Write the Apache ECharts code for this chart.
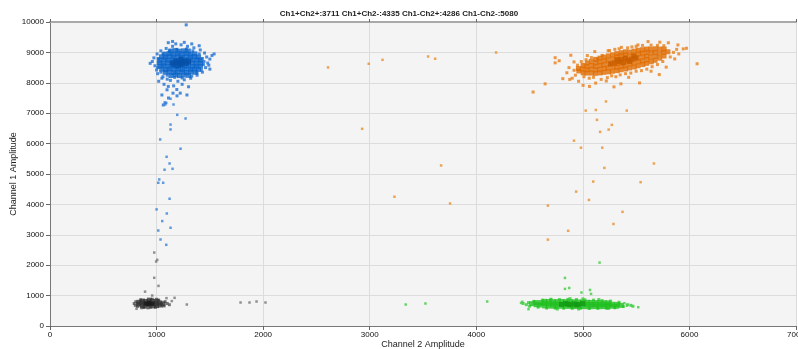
<!DOCTYPE html>
<html>
<head>
<meta charset="utf-8">
<script src="https://cdn.jsdelivr.net/npm/echarts@6/dist/echarts.min.js"></script>
<style>
  html, body { margin: 0; padding: 0; background: #ffffff; }
  #chart { width: 798px; height: 349px; }
</style>
</head>
<body>
<div id="chart"></div>
<script>
// Droplet amplitudes: [Channel 2 amplitude, Channel 1 amplitude]
const titleText = 'Ch1+Ch2+:3711 Ch1+Ch2-:4335 Ch1-Ch2+:4286 Ch1-Ch2-:5080';
const xTicks = [0, 1000, 2000, 3000, 4000, 5000, 6000, 7000];
const yTicks = [0, 1000, 2000, 3000, 4000, 5000, 6000, 7000, 8000, 9000, 10000];

// Ch1+Ch2- (blue) cluster
const blueCore = [
  [1135,8240],[1178,8262],[1215,8238],[1256,8255],[1300,8245],
  [1080,8345],[1118,8360],[1160,8338],[1198,8352],[1240,8365],[1281,8340],[1322,8358],[1362,8346],
  [1048,8455],[1086,8440],[1125,8462],[1163,8448],[1204,8455],[1242,8438],[1283,8460],[1320,8445],[1358,8458],[1394,8442],
  [1030,8548],[1068,8560],[1106,8542],[1146,8555],[1185,8538],[1224,8562],[1262,8545],[1300,8558],[1338,8540],[1376,8552],[1412,8546],
  [1025,8655],[1062,8640],[1102,8660],[1140,8645],[1180,8658],[1218,8642],[1258,8662],[1296,8648],[1335,8655],[1372,8640],[1414,8652],
  [1030,8745],[1070,8760],[1108,8742],[1148,8755],[1188,8740],[1226,8758],[1265,8745],[1304,8762],[1342,8748],[1380,8756],[1410,8742],
  [1046,8855],[1085,8842],[1124,8860],[1162,8846],[1202,8858],[1240,8842],[1280,8855],[1318,8848],[1356,8860],[1394,8845],
  [1078,8945],[1118,8958],[1158,8940],[1198,8955],[1238,8948],[1278,8960],[1318,8942],[1360,8952],
  [1134,9045],[1174,9058],[1214,9040],[1256,9052],[1298,9046]
];
const blueDense = [
  [1160,8600],[1200,8560],[1240,8600],[1280,8640],[1200,8680],[1240,8700],
  [1180,8720],[1270,8720],[1220,8640],[1300,8700],[1150,8660],[1230,8780]
];
const blueHalo = [
  [960,8700],[985,8560],[975,8820],[1000,8420],[1005,8950],[1010,8300],[940,8640],[1040,9050],
  [1060,8200],[1090,9130],[1100,8120],[1150,9200],[1130,8080],[1180,9280],[1200,8050],[1230,9250],
  [1260,8100],[1290,9200],[1320,8150],[1350,9150],[1380,8250],[1410,9080],[1430,8350],[1450,8980],
  [1460,8500],[1470,8850],[1480,8650],[1500,8780],[1520,8900],[1540,8950],[1500,8450],[1490,8580],
  [1150,9360],[1110,9320],[1260,9330],[1330,9280],[1400,9220],[1050,8150],[1020,8050],[1070,7950],
  [1110,7880],[1160,7900],[1240,7950],[1300,7870],[1098,7770],[1190,7780],[1063,7270],[1079,7345],
  [1112,7500],[1154,7660],[1192,7570],[1222,7660],[1285,7600],[1050,7600],[1278,9906],
  [1010,8500],[1015,8800],[1040,8350],[1060,8950],[1100,8250],[1120,9050],[1170,8180],[1190,9100],
  [1240,8160],[1280,9110],[1330,8220],[1340,9050],[1380,8330],[1400,8950],[1420,8420],[1430,8800],
  [1440,8600],[1445,8700]
];
const blueTrail = [
  [1131,7476],[1091,7336],[1082,7286],[1159,7286],[1194,6946],[1272,6826],[1131,6626],[1131,6466],
  [1034,6136],[1225,5831],[1094,5566],[1122,5346],[1075,5141],[1150,5171],[1025,4821],[1016,4711],
  [1062,4711],[1122,4186],[1000,3836],[1096,3701],[1053,3451],[1131,3231],[1016,3141],[1037,2846],
  [1091,2671]
];

// Ch1+Ch2+ (orange) cluster
const orangeCore = [
  [4962,8390],[4958,8470],
  [5003,8330],[4998,8450],[5002,8570],
  [5038,8320],[5043,8430],[5037,8540],[5042,8650],
  [5082,8320],[5078,8445],[5083,8570],[5079,8700],
  [5118,8310],[5122,8425],[5117,8540],[5123,8655],[5119,8770],
  [5162,8325],[5158,8445],[5163,8570],[5157,8690],[5161,8810],
  [5198,8345],[5203,8470],[5197,8595],[5202,8720],[5199,8850],
  [5242,8360],[5238,8490],[5243,8620],[5237,8750],[5241,8885],
  [5278,8380],[5283,8515],[5277,8650],[5282,8785],[5279,8920],
  [5322,8400],[5318,8515],[5323,8630],[5317,8745],[5321,8860],[5319,8960],
  [5358,8430],[5363,8545],[5357,8660],[5362,8775],[5359,8890],[5361,8990],
  [5402,8455],[5398,8570],[5403,8690],[5397,8805],[5401,8920],[5399,9020],
  [5438,8490],[5443,8620],[5437,8750],[5442,8880],[5439,9010],
  [5482,8520],[5478,8650],[5483,8780],[5477,8910],[5481,9040],
  [5518,8560],[5523,8690],[5517,8820],[5522,8950],[5519,9070],
  [5562,8600],[5558,8725],[5563,8850],[5557,8975],[5561,9090],
  [5598,8640],[5603,8760],[5597,8880],[5602,9000],[5599,9110],
  [5642,8690],[5638,8835],[5643,8980],[5637,9110],
  [5678,8740],[5683,8870],[5677,9000],[5682,9120],
  [5722,8810],[5718,8960],[5723,9110],
  [5762,8880],[5758,9000],[5763,9110],
  [5798,9020]
];
const orangeDense = [
  [5300,8650],[5340,8700],[5380,8660],[5420,8740],[5360,8760],[5460,8780],
  [5400,8820],[5320,8760],[5440,8700],[5500,8820],[5260,8620],[5480,8880]
];
const orangeHalo = [
  [4887,8906],[4917,8686],[4917,8411],[4812,8136],[4877,8111],[5002,7916],[5062,7881],[5172,8111],
  [5292,7866],[5357,7966],[5532,7996],[5717,8271],[5782,8516],[5862,8786],[5942,9116],[5972,9136],
  [5892,9246],[5802,9316],[5722,9336],[5612,9356],[5517,9246],[5362,9166],[5237,9056],[5112,9026],
  [5042,8896],[4930,8250],[4950,8580],[4985,8700],[5010,8200],[5060,8150],[5100,8180],[5140,8790],
  [5180,8900],[5230,8170],[5270,8230],[5310,8200],[5350,8260],[5400,8300],[5450,8320],[5500,8380],
  [5550,8400],[5600,8450],[5650,8530],[5700,8600],[5750,8700],[5820,8850],[5850,9000],[5880,9100],
  [5250,9060],[5300,9100],[5340,9120],[5420,9150],[5460,9180],[5500,9200],[5560,9230],[5640,9240],
  [5700,9230],[5760,9220],[5030,8760],[5080,8830],[4870,8500],[4850,8330],[4900,8150],[4960,8050],
  [5120,7990],[5220,8060],[5430,8180],[5640,8380],[5900,8950],[4533,7696],[4646,7966],[4740,8826],
  [4740,8656],[4778,8726],[6072,8626]
];
const orangeTrail = [
  [5217,7386],[5027,7086],[5122,7106],[5412,7086],[5132,6781],[5272,6616],[5162,6386],[5242,6461],
  [4917,6096],[4982,5866],[5182,5866],[5667,5346],[5202,5201],[5097,4751],[5542,4731],[4937,4421],
  [5057,4146],[4672,3961],[5372,3756],[5287,3356],[4862,3131],[4672,2841],
  [2609,8506],[2991,8626],[3120,8756],[3548,8866],[3614,8791],[4186,8996],[2929,6486],[3670,5281],
  [3232,4251],[3754,4031]
];

// Ch1-Ch2+ (green) cluster
const greenCore = [
  [4520,735],[4562,700],[4558,770],[4598,690],[4603,770],
  [4642,660],[4638,740],[4643,810],[4678,655],[4683,730],[4677,805],
  [4722,650],[4718,725],[4723,800],[4758,650],[4763,725],[4757,800],
  [4802,650],[4798,725],[4803,805],[4838,645],[4843,720],[4837,800],
  [4882,645],[4878,720],[4883,795],[4918,640],[4923,715],[4917,795],
  [4962,640],[4958,715],[4963,790],[4998,640],[5003,715],[4997,785],
  [5042,635],[5038,710],[5043,780],[5078,635],[5083,705],[5077,775],
  [5122,640],[5118,705],[5123,770],[5158,635],[5163,700],[5157,765],
  [5202,640],[5198,705],[5203,765],[5238,640],[5243,700],[5237,760],
  [5282,650],[5278,715],[5318,650],[5323,710],[5362,680]
];
const greenDense = [
  [4800,710],[4840,740],[4880,700],[4920,730],[4960,710],[5000,740],[4860,720],[4940,690]
];
const greenHalo = [
  [4440,740],[4470,700],[4490,770],[4500,650],[4540,810],[4580,620],[4620,850],[4660,590],
  [4700,860],[4740,590],[4780,870],[4820,585],[4860,875],[4900,580],[4940,870],[4980,585],
  [5020,860],[5060,575],[5100,850],[5140,580],[5180,835],[5220,585],[5260,820],[5300,600],
  [5340,780],[5380,640],[5420,700],[5450,680],[5470,650],[4610,720],[4700,880],[4880,900],
  [5000,890],[5150,870],[4760,560],[4960,560],[5240,580]
];
const greenTrail = [
  [5157,2086],[4832,1581],[4832,1221],[4872,1251],[4987,1101],[5067,1186],[5077,1056],
  [4420,760],[4490,553],[5520,618],[5390,750],[5412,671],
  [3338,707],[3523,740],[4102,806],[4432,796]
];

// Ch1-Ch2- (black) cluster
const blackCore = [
  [830,720],[835,780],[865,680],[862,750],[868,820],[895,660],[900,730],[893,805],
  [930,650],[935,720],[928,790],[932,850],[965,660],[968,735],[962,810],[1000,670],
  [995,740],[1003,810],[1035,690],[1030,760],[1060,730]
];
const blackDense = [[900,740],[930,760],[960,730],[920,720]];
const blackHalo = [
  [790,740],[800,680],[805,800],[820,640],[850,860],[880,610],[920,600],[960,880],
  [990,620],[1020,850],[1070,660],[1080,800],[1100,740],[1120,700],[860,600],[1000,880]
];
const blackTrail = [
  [978,2416],[1006,2176],[996,2121],[978,1586],[1018,1320],[892,1130],[959,1003],[1093,916],
  [1169,926],[1143,819],[1284,707],[812,566],[915,596],
  [1788,773],[1872,773],[1938,806],[2022,773]
];

const FONT = 'Liberation Sans, Arial, sans-serif';

function pts(name, data, color, size) {
  return {
    name: name,
    type: 'scatter',
    data: data,
    symbol: 'rect',
    symbolSize: size,
    itemStyle: { color: color },
    silent: true,
    animation: false
  };
}

const plain = v => String(v);

const chart = echarts.init(document.getElementById('chart'), null, { renderer: 'canvas' });
chart.setOption({
  backgroundColor: '#ffffff',
  animation: false,
  title: {
    text: titleText,
    left: 'center',
    top: 5,
    textStyle: { fontFamily: FONT, fontSize: 8, fontWeight: 'bold', color: '#222' }
  },
  grid: {
    left: 50, right: 2, top: 22, bottom: 23,
    outerBoundsMode: 'none',
    show: true, backgroundColor: '#f4f4f4', borderWidth: 0
  },
  xAxis: [
    {
      type: 'value', min: xTicks[0], max: xTicks[xTicks.length - 1], interval: 1000,
      position: 'bottom',
      name: 'Channel 2 Amplitude', nameLocation: 'middle', nameGap: 14,
      nameMoveOverlap: false,
      nameTextStyle: { fontFamily: FONT, fontSize: 9, color: '#222' },
      axisLine: { lineStyle: { color: '#777', width: 1 } },
      axisTick: { show: true, length: 4, lineStyle: { color: '#666' } },
      axisLabel: { fontFamily: FONT, fontSize: 8, color: '#111', margin: 5, formatter: plain },
      splitLine: { show: true, lineStyle: { color: '#dcdcdc', width: 1 } }
    },
    {
      type: 'value', min: xTicks[0], max: xTicks[xTicks.length - 1], interval: 1000,
      position: 'top',
      axisLine: { show: true, lineStyle: { color: '#a9a9a9', width: 2 } },
      axisTick: { show: true, length: 3, lineStyle: { color: '#666' } },
      axisLabel: { show: false },
      splitLine: { show: false }
    }
  ],
  yAxis: {
    type: 'value', min: yTicks[0], max: yTicks[yTicks.length - 1], interval: 1000,
    name: 'Channel 1 Amplitude', nameLocation: 'middle', nameGap: 32,
    nameMoveOverlap: false,
    nameTextStyle: { fontFamily: FONT, fontSize: 9, color: '#222' },
    axisLine: { show: true, lineStyle: { color: '#777', width: 1 } },
    axisTick: { show: true, length: 4, lineStyle: { color: '#666' } },
    axisLabel: { fontFamily: FONT, fontSize: 8, color: '#111', margin: 6, formatter: plain },
    splitLine: { show: true, lineStyle: { color: '#dcdcdc', width: 1 } }
  },
  series: [
    pts('Ch1-Ch2- halo', blackHalo, '#555555', 3),
    pts('Ch1-Ch2-', blackCore, '#333333', 5),
    pts('Ch1-Ch2- dense', blackDense, '#1a1a1a', 4),
    pts('Ch1-Ch2- trail', blackTrail, '#777777', 2.5),
    pts('Ch1-Ch2+ halo', greenHalo, '#33cc33', 3),
    pts('Ch1-Ch2+', greenCore, '#1fbf1f', 5),
    pts('Ch1-Ch2+ dense', greenDense, '#139a13', 5),
    pts('Ch1-Ch2+ trail', greenTrail, '#44cc44', 2.5),
    pts('Ch1+Ch2- halo', blueHalo, '#1f72d4', 3),
    pts('Ch1+Ch2-', blueCore, '#0a64c8', 5),
    pts('Ch1+Ch2- dense', blueDense, '#0650a8', 5),
    pts('Ch1+Ch2- trail', blueTrail, '#3a82d8', 2.5),
    pts('Ch1+Ch2+ halo', orangeHalo, '#e8801a', 3),
    pts('Ch1+Ch2+', orangeCore, '#e06c00', 5),
    pts('Ch1+Ch2+ dense', orangeDense, '#c85e00', 5),
    pts('Ch1+Ch2+ trail', orangeTrail, '#e8902e', 2.5)
  ]
});
</script>
</body>
</html>
